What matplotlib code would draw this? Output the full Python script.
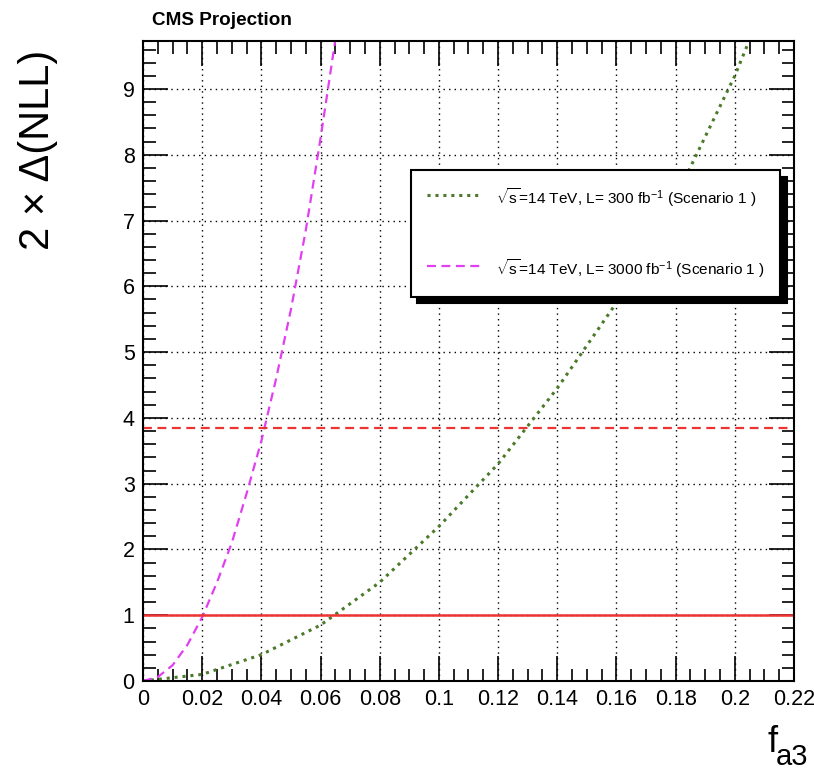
import numpy as np
import matplotlib
matplotlib.use('Agg')
import matplotlib.pyplot as plt
from matplotlib.ticker import MultipleLocator

plt.rcParams['font.family'] = ['Liberation Sans', 'DejaVu Sans']
plt.rcParams['mathtext.fontset'] = 'custom'
plt.rcParams['mathtext.rm'] = 'Liberation Sans'
plt.rcParams['mathtext.it'] = 'Liberation Sans:italic'

# 数据
fa3_3000 = [0, 0.005, 0.01, 0.015, 0.02, 0.025, 0.03, 0.035, 0.04, 0.045, 0.05, 0.055, 0.06, 0.065]
nll_3000 = [0, 0.06, 0.24, 0.55, 0.97, 1.5, 2.1, 2.85, 3.65, 4.6, 5.65, 6.85, 8.25, 9.75]

fa3_300 = [0, 0.02, 0.04, 0.06, 0.08, 0.1, 0.12, 0.14, 0.16, 0.18, 0.2, 0.205]
nll_300 = [0, 0.1, 0.4, 0.85, 1.5, 2.35, 3.3, 4.45, 5.75, 7.35, 9.2, 9.75]

cl68 = 1.0
cl95 = 3.84

xtick_labels = ['0', '0.02', '0.04', '0.06', '0.08', '0.1', '0.12', '0.14',
                '0.16', '0.18', '0.2', '0.22']
labels = [r'$\sqrt{\mathrm{s}}$=14 TeV, L= 300 fb$^{\mathrm{-1}}$ (Scenario 1 )',
          r'$\sqrt{\mathrm{s}}$=14 TeV, L= 3000 fb$^{\mathrm{-1}}$ (Scenario 1 )']

fig = plt.figure(figsize=(8.14, 7.72), dpi=100)
ax = fig.add_axes([0.1757, 0.1179, 0.7997, 0.829])

# 曲线
ax.plot(fa3_300, nll_300, color='#4a7a2a', linestyle=(0, (1, 1.6)), lw=2.2, label=labels[0])
ax.plot(fa3_3000, nll_3000, color='#e040f0', linestyle=(0, (4, 2.5)), lw=1.6, label=labels[1])

# 置信水平线
ax.axhline(cl95, color='#ee3333', linestyle=(0, (4, 2.5)), lw=1.6)
ax.axhline(cl68, color='#ee3333', linestyle='-', lw=1.8)

ax.set_xlim(0, 0.22)
ax.set_ylim(0, 9.73)
ax.xaxis.set_minor_locator(MultipleLocator(0.005))
ax.yaxis.set_major_locator(MultipleLocator(1))
ax.yaxis.set_minor_locator(MultipleLocator(0.2))
ax.set_xticks(np.arange(0, 0.2201, 0.02))
ax.set_xticklabels(xtick_labels)

ax.tick_params(which='both', direction='in', top=True, right=True, width=1.2)
ax.tick_params(which='major', length=18, labelsize=15.5, pad=6)
ax.tick_params(which='minor', length=9)
for s in ax.spines.values():
    s.set_linewidth(1.5)

ax.grid(True, which='major', color='black', linestyle=(0, (1, 3)), lw=1.0)

leg = ax.legend(loc='upper left', bbox_to_anchor=(0.412, 0.798), fontsize=11.1,
                frameon=True, fancybox=False, edgecolor='black',
                shadow={'ox': 4.5, 'oy': -4.5, 'facecolor': 'black', 'edgecolor': 'black', 'alpha': 1},
                borderpad=1.0, labelspacing=3.0, handlelength=3.6, handleheight=2.0,
                handletextpad=0.9, borderaxespad=0, framealpha=1)
leg.get_frame().set_linewidth(1.5)

fig.text(0.187, 0.973, 'CMS Projection', fontsize=13.6, fontweight='bold', va='center')
fig.text(0.047, 0.935, '2 × Δ(NLL)', fontsize=30, rotation=90, ha='center', va='top')
fig.text(0.955, 0.026, 'f', fontsize=26, ha='right', va='baseline')
fig.text(0.993, 0.009, 'a3', fontsize=21, ha='right', va='baseline')

fig.savefig('out.png', dpi=100)
